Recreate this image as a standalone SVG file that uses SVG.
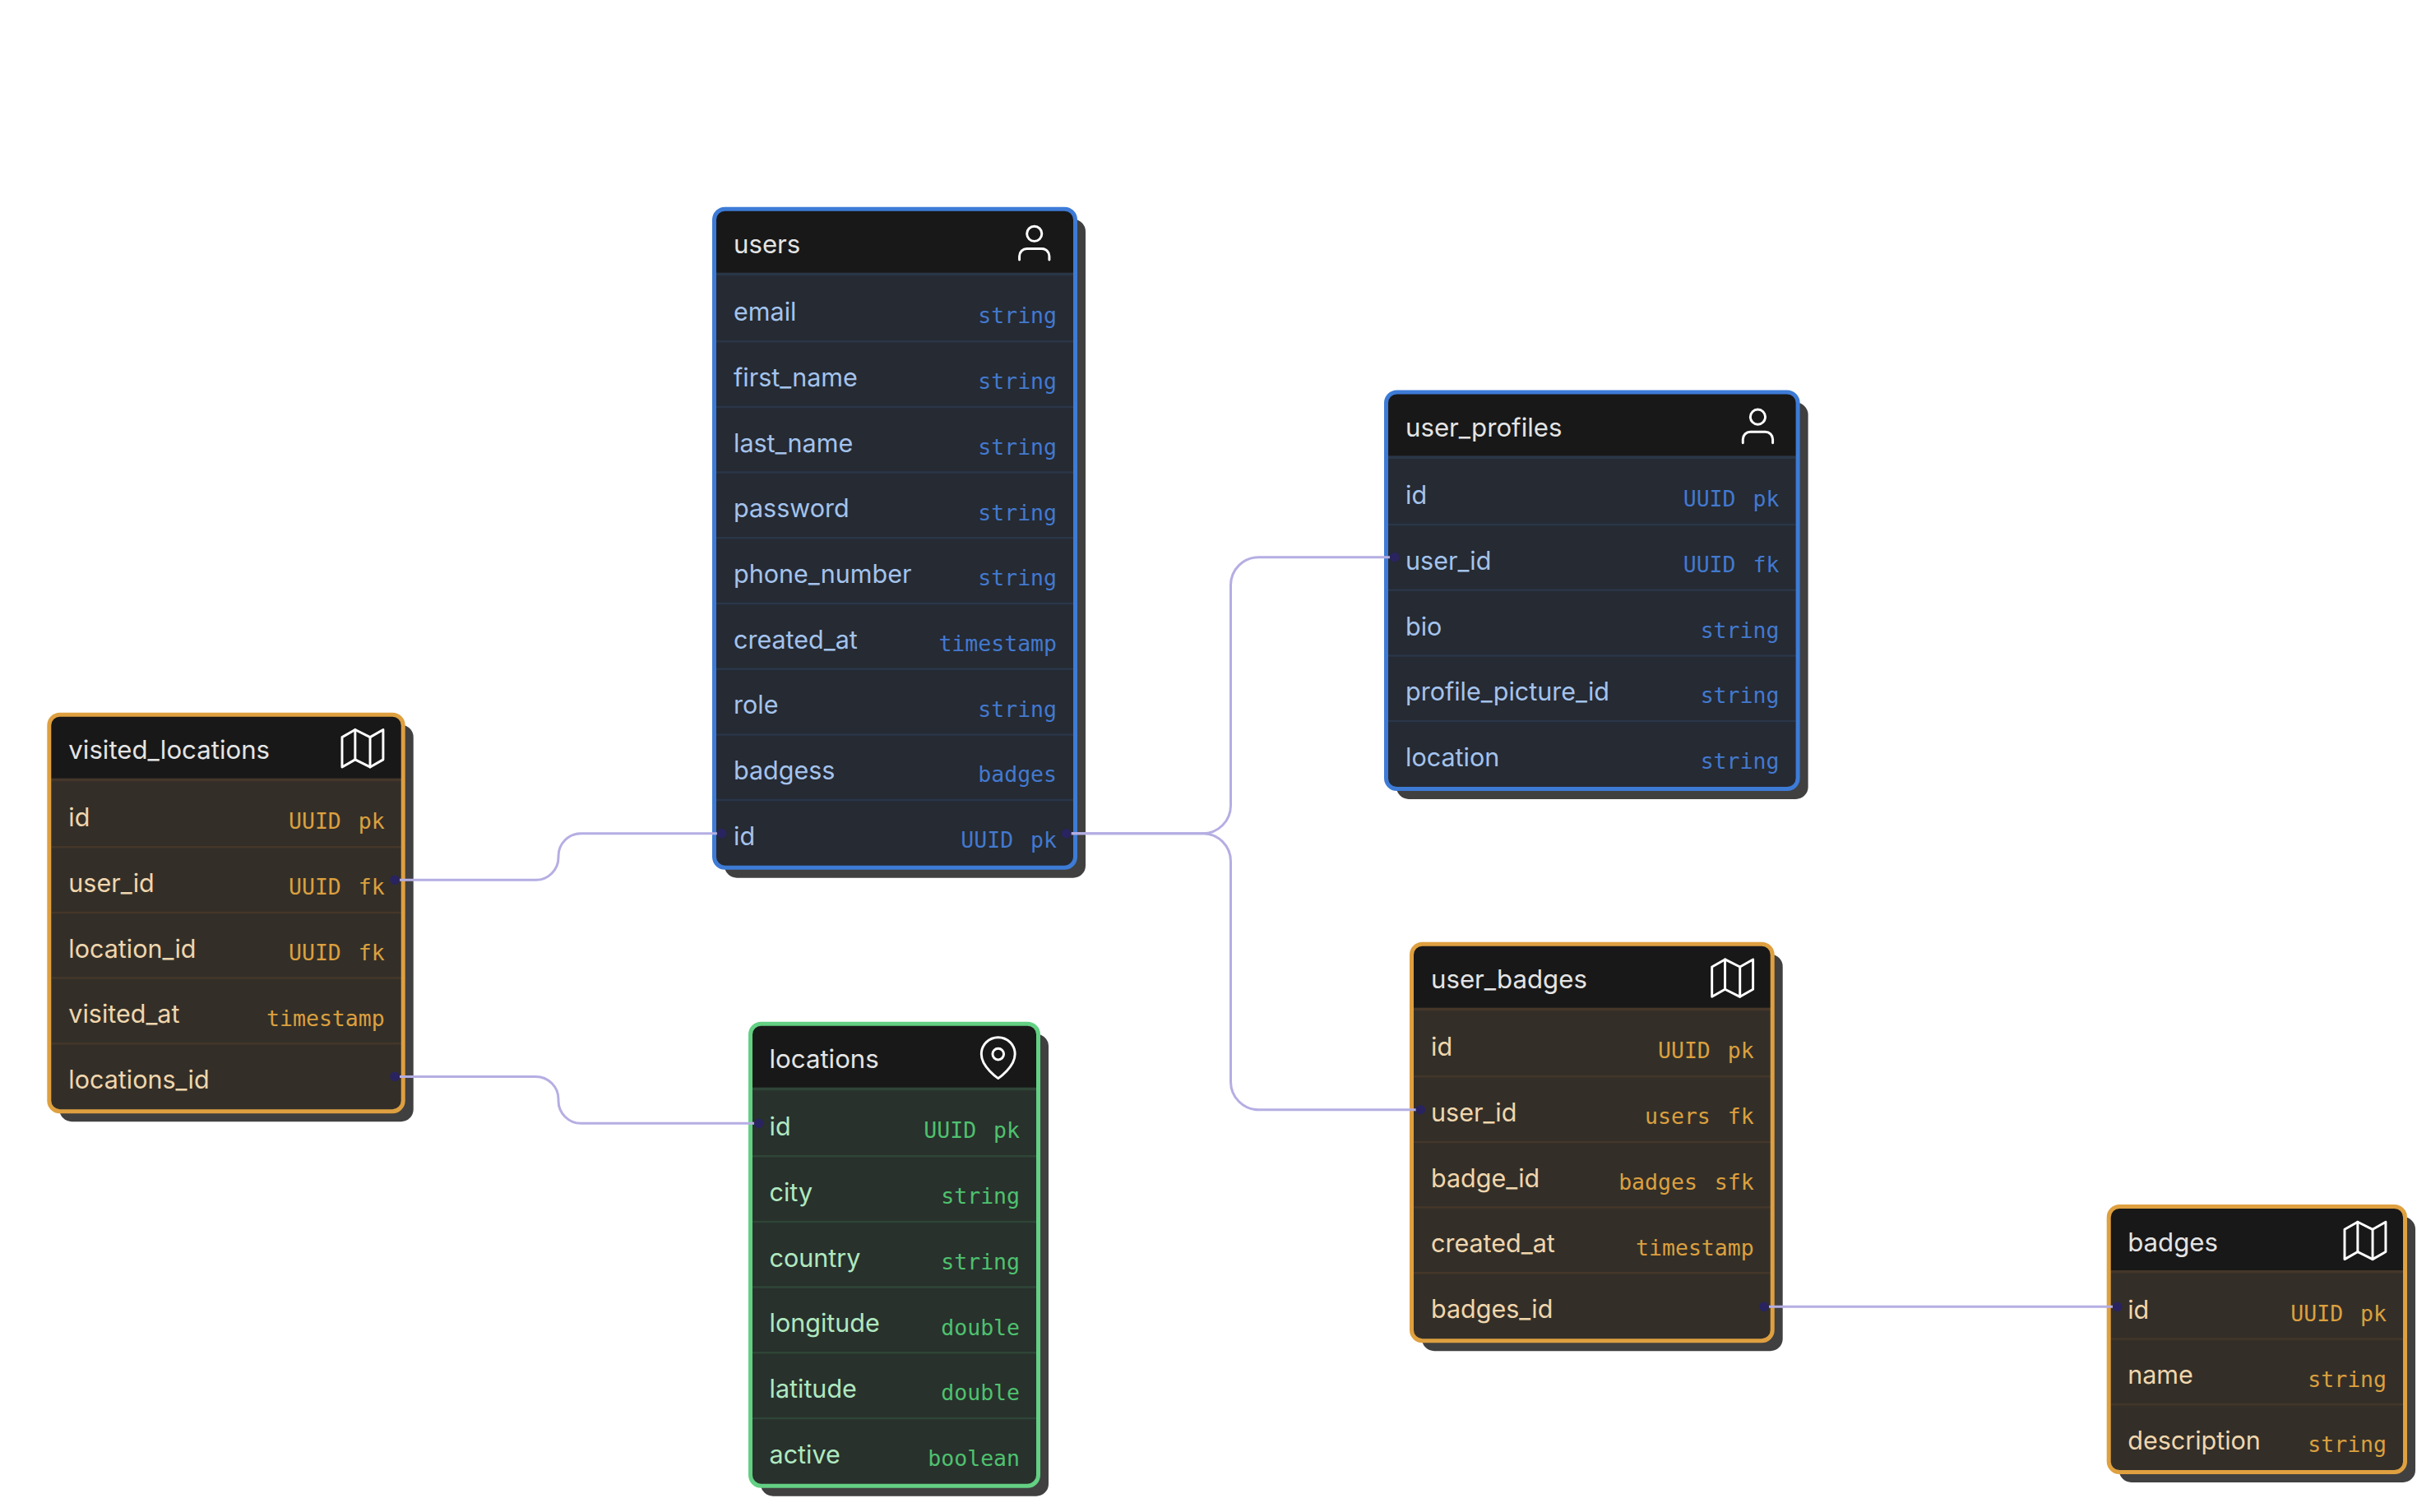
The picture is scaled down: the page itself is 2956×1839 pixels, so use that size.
<svg xmlns="http://www.w3.org/2000/svg" width="2956" height="1839" viewBox="0 0 2956 1839">
<style>
text{font-family:"Inter","Liberation Sans",sans-serif}
.h{font-size:31.2px;fill:#e4e4e4}
.f{font-size:30.5px}
.t{font-family:"DejaVu Sans Mono","Liberation Mono",monospace;font-size:26.5px;text-anchor:end;word-spacing:5px}
.sh{fill:#404040}
.hd{fill:#181818}
.ic{fill:none;stroke:#fff;stroke-width:1.3;stroke-linecap:round;stroke-linejoin:round}
.bd{fill:none;stroke-width:5}
.dv{stroke-width:2.5}
.hv{stroke-width:3.5}
.blue .bg{fill:#252a33}.blue .bd{stroke:#3d7bd6}.blue .dv,.blue .hv{stroke:#2a3648}.blue .f{fill:#a4c3ec}.blue .t{fill:#4379cf}
.orange .bg{fill:#332f28}.orange .bd{stroke:#dfa040}.orange .dv,.orange .hv{stroke:#44372a}.orange .f{fill:#f0d6ae}.orange .t{fill:#dca03f}
.green .bg{fill:#28312c}.green .bd{stroke:#63d083}.green .dv,.green .hv{stroke:#2f4537}.green .f{fill:#b0e8c0}.green .t{fill:#4fc16f}
.c{fill:none;stroke:#b5aee3;stroke-width:3}
.d{fill:#29245f}
</style>
<defs>
<g id="i-user" class="ic"><path d="M20 21v-2a4 4 0 0 0-4-4H8a4 4 0 0 0-4 4v2"/><circle cx="12" cy="7" r="4"/></g>
<g id="i-map" class="ic"><path d="M1 6V22L8 18L16 22L23 18V2L16 6L8 2Z"/><path d="M8 2V18M16 6V22"/></g>
<g id="i-pin" class="ic"><path d="M21 10c0 7-9 13-9 13s-9-6-9-13a9 9 0 0 1 18 0z"/><circle cx="12" cy="10" r="3"/></g>
</defs>

<g id="users" class="blue" transform="translate(866 251.7)">
<rect class="sh" x="15" y="15" width="439" height="801" rx="15"/>
<rect class="bg" x="3" y="3" width="438" height="800" rx="12"/>
<path class="hd" d="M3 80V15a12 12 0 0 1 12-12H429a12 12 0 0 1 12 12V80z"/>
<g fill="none"><path class="hv" d="M5 81.7H439"/><path class="dv" d="M5 163.5H439M5 243.2H439M5 322.9H439M5 402.6H439M5 482.3H439M5 562H439M5 641.7H439M5 721.4H439"/></g>
<rect class="bd" x="2.5" y="2.5" width="439" height="801" rx="13"/>
<text class="h" x="26" y="56.6">users</text>
<use href="#i-user" transform="translate(364.5 16.7) scale(2.27)"/>
<text class="f" x="26" y="138.6">email</text><text class="t" x="419" y="141.8">string</text>
<text class="f" x="26" y="218.3">first_name</text><text class="t" x="419" y="221.5">string</text>
<text class="f" x="26" y="298">last_name</text><text class="t" x="419" y="301.2">string</text>
<text class="f" x="26" y="377.7">password</text><text class="t" x="419" y="380.9">string</text>
<text class="f" x="26" y="457.4">phone_number</text><text class="t" x="419" y="460.6">string</text>
<text class="f" x="26" y="537.1">created_at</text><text class="t" x="419" y="540.3">timestamp</text>
<text class="f" x="26" y="616.8">role</text><text class="t" x="419" y="620">string</text>
<text class="f" x="26" y="696.5">badgess</text><text class="t" x="419" y="699.7">badges</text>
<text class="f" x="26" y="776.2">id</text><text class="t" x="419" y="779.4">UUID pk</text>
</g>

<g id="user_profiles" class="blue" transform="translate(1683 474.5)">
<rect class="sh" x="15" y="15" width="500.6" height="482.5" rx="15"/>
<rect class="bg" x="3" y="3" width="499.6" height="481.5" rx="12"/>
<path class="hd" d="M3 80V15a12 12 0 0 1 12-12H490.6a12 12 0 0 1 12 12V80z"/>
<g fill="none"><path class="hv" d="M5 81.7H500.6"/><path class="dv" d="M5 163.5H500.6M5 243.2H500.6M5 322.9H500.6M5 402.6H500.6"/></g>
<rect class="bd" x="2.5" y="2.5" width="500.6" height="482.5" rx="13"/>
<text class="h" x="26" y="56.6">user_profiles</text>
<use href="#i-user" transform="translate(427.2 16.7) scale(2.27)"/>
<text class="f" x="26" y="138.6">id</text><text class="t" x="480.4" y="141.8">UUID pk</text>
<text class="f" x="26" y="218.3">user_id</text><text class="t" x="480.4" y="221.5">UUID fk</text>
<text class="f" x="26" y="298">bio</text><text class="t" x="480.4" y="301.2">string</text>
<text class="f" x="26" y="377.7">profile_picture_id</text><text class="t" x="480.4" y="380.9">string</text>
<text class="f" x="26" y="457.4">location</text><text class="t" x="480.4" y="460.6">string</text>
</g>

<g id="user_badges" class="orange" transform="translate(1714 1145.7)">
<rect class="sh" x="15" y="15" width="438.7" height="482.5" rx="15"/>
<rect class="bg" x="3" y="3" width="437.7" height="481.5" rx="12"/>
<path class="hd" d="M3 80V15a12 12 0 0 1 12-12H428.7a12 12 0 0 1 12 12V80z"/>
<g fill="none"><path class="hv" d="M5 81.7H438.7"/><path class="dv" d="M5 163.5H438.7M5 243.2H438.7M5 322.9H438.7M5 402.6H438.7"/></g>
<rect class="bd" x="2.5" y="2.5" width="438.7" height="482.5" rx="13"/>
<text class="h" x="26" y="56.6">user_badges</text>
<use href="#i-map" transform="translate(365.4 16.7) scale(2.27)"/>
<text class="f" x="26" y="138.6">id</text><text class="t" x="418.7" y="141.8">UUID pk</text>
<text class="f" x="26" y="218.3">user_id</text><text class="t" x="418.7" y="221.5">users fk</text>
<text class="f" x="26" y="298">badge_id</text><text class="t" x="418.7" y="301.2">badges sfk</text>
<text class="f" x="26" y="377.7">created_at</text><text class="t" x="418.7" y="380.9">timestamp</text>
<text class="f" x="26" y="457.4">badges_id</text>
</g>

<g id="visited_locations" class="orange" transform="translate(57.3 866.7)">
<rect class="sh" x="15" y="15" width="430.4" height="482.5" rx="15"/>
<rect class="bg" x="3" y="3" width="429.4" height="481.5" rx="12"/>
<path class="hd" d="M3 80V15a12 12 0 0 1 12-12H420.4a12 12 0 0 1 12 12V80z"/>
<g fill="none"><path class="hv" d="M5 81.7H430.4"/><path class="dv" d="M5 163.5H430.4M5 243.2H430.4M5 322.9H430.4M5 402.6H430.4"/></g>
<rect class="bd" x="2.5" y="2.5" width="430.4" height="482.5" rx="13"/>
<text class="h" x="26" y="56.6">visited_locations</text>
<use href="#i-map" transform="translate(356.4 16.3) scale(2.27)"/>
<text class="f" x="26" y="138.6">id</text><text class="t" x="410.4" y="141.8">UUID pk</text>
<text class="f" x="26" y="218.3">user_id</text><text class="t" x="410.4" y="221.5">UUID fk</text>
<text class="f" x="26" y="298">location_id</text><text class="t" x="410.4" y="301.2">UUID fk</text>
<text class="f" x="26" y="377.7">visited_at</text><text class="t" x="410.4" y="380.9">timestamp</text>
<text class="f" x="26" y="457.4">locations_id</text>
</g>

<g id="locations" class="green" transform="translate(910 1242.7)">
<rect class="sh" x="15" y="15" width="350" height="562" rx="15"/>
<rect class="bg" x="3" y="3" width="349" height="561" rx="12"/>
<path class="hd" d="M3 80V15a12 12 0 0 1 12-12H340a12 12 0 0 1 12 12V80z"/>
<g fill="none"><path class="hv" d="M5 81.7H350"/><path class="dv" d="M5 163.5H350M5 243.2H350M5 322.9H350M5 402.6H350M5 482.3H350"/></g>
<rect class="bd" x="2.5" y="2.5" width="350" height="562" rx="13"/>
<text class="h" x="25.5" y="56.6">locations</text>
<use href="#i-pin" transform="translate(276.5 16.7) scale(2.27)"/>
<text class="f" x="25.5" y="138.6">id</text><text class="t" x="330" y="141.8">UUID pk</text>
<text class="f" x="25.5" y="218.3">city</text><text class="t" x="330" y="221.5">string</text>
<text class="f" x="25.5" y="298">country</text><text class="t" x="330" y="301.2">string</text>
<text class="f" x="25.5" y="377.7">longitude</text><text class="t" x="330" y="380.9">double</text>
<text class="f" x="25.5" y="457.4">latitude</text><text class="t" x="330" y="460.6">double</text>
<text class="f" x="25.5" y="537.1">active</text><text class="t" x="330" y="540.3">boolean</text>
</g>

<g id="badges" class="orange" transform="translate(2561.7 1465)">
<rect class="sh" x="15" y="15" width="360.3" height="323" rx="15"/>
<rect class="bg" x="3" y="3" width="359.3" height="322" rx="12"/>
<path class="hd" d="M3 80V15a12 12 0 0 1 12-12H350.3a12 12 0 0 1 12 12V80z"/>
<g fill="none"><path class="hv" d="M5 81.7H360.3"/><path class="dv" d="M5 163.5H360.3M5 243.2H360.3"/></g>
<rect class="bd" x="2.5" y="2.5" width="360.3" height="323" rx="13"/>
<text class="h" x="25.5" y="56.6">badges</text>
<use href="#i-map" transform="translate(287 16.7) scale(2.27)"/>
<text class="f" x="25.5" y="138.6">id</text><text class="t" x="340.3" y="141.8">UUID pk</text>
<text class="f" x="25.5" y="218.3">name</text><text class="t" x="340.3" y="221.5">string</text>
<text class="f" x="25.5" y="298">description</text><text class="t" x="340.3" y="301.2">string</text>
</g>

<g id="connectors">
<path class="c" d="M486 1070.3H651.5A27.5 27.5 0 0 0 679 1042.8V1041.2A27.5 27.5 0 0 1 706.5 1013.7H872"/>
<path class="c" d="M1302.7 1013.7H1462.5A34 34 0 0 0 1496.5 979.7V711.7A34 34 0 0 1 1530.5 677.7H1690"/>
<path class="c" d="M1302.7 1013.7H1462.5A34 34 0 0 1 1496.5 1047.7V1315.7A34 34 0 0 0 1530.5 1349.7H1722"/>
<path class="c" d="M486 1309.4H651.5A27.5 27.5 0 0 1 679 1336.9V1338.8A27.5 27.5 0 0 0 706.5 1366.3H917"/>
<path class="c" d="M2151 1589.3H2569"/>
<circle class="d" cx="480" cy="1070.3" r="5.8"/><circle class="d" cx="877.6" cy="1013.7" r="5.8"/>
<circle class="d" cx="1296.7" cy="1013.7" r="5.8"/><circle class="d" cx="1695.7" cy="677.7" r="5.8"/>
<circle class="d" cx="1727.3" cy="1349.7" r="5.8"/><circle class="d" cx="480" cy="1309.4" r="5.8"/>
<circle class="d" cx="922.7" cy="1366.3" r="5.8"/><circle class="d" cx="2145" cy="1589.3" r="5.8"/>
<circle class="d" cx="2574.7" cy="1589.3" r="5.8"/>
</g>
</svg>
